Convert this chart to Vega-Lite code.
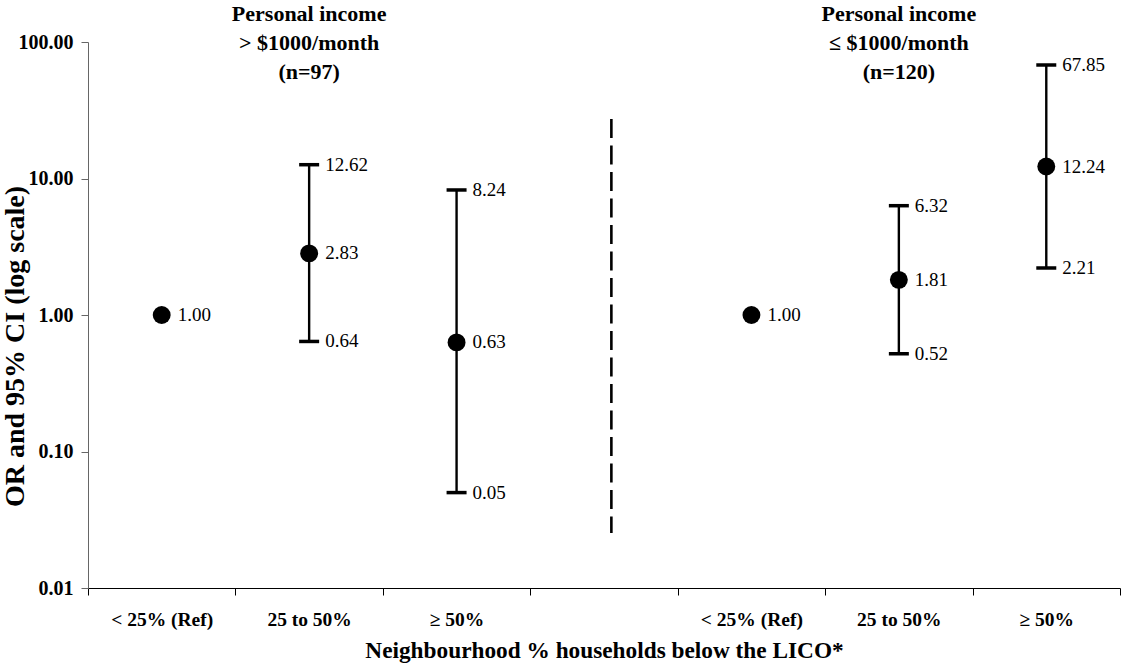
{
  "$schema": "https://vega.github.io/schema/vega-lite/v6.json",
  "width": 1032,
  "height": 546,
  "autosize": {"type": "none"},
  "padding": {"left": 88, "top": 42, "right": 8, "bottom": 77},
  "background": "white",
  "config": {
    "view": {"stroke": null},
    "font": "Liberation Serif",
    "axis": {"grid": false, "labelFont": "Liberation Serif", "titleFont": "Liberation Serif"}
  },
  "datasets": {
    "est": [
      {"pos": 0.5, "or": 1.00, "lo": null, "hi": null, "group": ">1000"},
      {"pos": 1.5, "or": 2.83, "lo": 0.64, "hi": 12.62, "group": ">1000"},
      {"pos": 2.5, "or": 0.63, "lo": 0.05, "hi": 8.24, "group": ">1000"},
      {"pos": 4.5, "or": 1.00, "lo": null, "hi": null, "group": "<=1000"},
      {"pos": 5.5, "or": 1.81, "lo": 0.52, "hi": 6.32, "group": "<=1000"},
      {"pos": 6.5, "or": 12.24, "lo": 2.21, "hi": 67.85, "group": "<=1000"}
    ],
    "heads": [
      {"pos": 1.5, "y": 100, "text": "Personal income\n> $1000/month\n(n=97)"},
      {"pos": 5.5, "y": 100, "text": "Personal income\n≤ $1000/month\n(n=120)"}
    ],
    "divider": [
      {"pos": 3.55, "top": 27.3, "bottom": 0.0253}
    ]
  },
  "layer": [
    {
      "data": {"name": "divider"},
      "mark": {"type": "rule", "strokeDash": [19, 7.5], "strokeWidth": 2.6, "color": "black"},
      "encoding": {
        "x": {"field": "pos", "type": "quantitative"},
        "y": {"field": "top", "type": "quantitative"},
        "y2": {"field": "bottom"}
      }
    },
    {
      "data": {"name": "est"},
      "transform": [{"filter": "datum.lo != null"}],
      "mark": {"type": "rule", "strokeWidth": 2.4, "color": "black"},
      "encoding": {
        "x": {"field": "pos", "type": "quantitative"},
        "y": {"field": "lo", "type": "quantitative"},
        "y2": {"field": "hi"}
      }
    },
    {
      "data": {"name": "est"},
      "transform": [{"filter": "datum.lo != null"}, {"fold": ["lo", "hi"], "as": ["bound", "val"]}],
      "mark": {"type": "tick", "orient": "horizontal", "size": 20, "thickness": 3.5, "color": "black", "opacity": 1},
      "encoding": {
        "x": {"field": "pos", "type": "quantitative"},
        "y": {"field": "val", "type": "quantitative"}
      }
    },
    {
      "data": {"name": "est"},
      "transform": [{"filter": "datum.lo != null"}, {"fold": ["lo", "hi"], "as": ["bound", "val"]}],
      "mark": {"type": "text", "align": "left", "baseline": "middle", "dx": 16, "fontSize": 19, "font": "Liberation Serif", "color": "black"},
      "encoding": {
        "x": {"field": "pos", "type": "quantitative"},
        "y": {"field": "val", "type": "quantitative"},
        "text": {"field": "val", "type": "quantitative", "format": ".2f"}
      }
    },
    {
      "data": {"name": "est"},
      "mark": {"type": "circle", "size": 320, "color": "black", "opacity": 1},
      "encoding": {
        "x": {
          "field": "pos", "type": "quantitative",
          "scale": {"domain": [0, 7], "nice": false, "zero": false},
          "axis": {
            "values": [0, 1, 2, 3, 4, 5, 6, 7],
            "labelExpr": "['< 25% (Ref)', '25 to 50%', '≥ 50%', '', '< 25% (Ref)', '25 to 50%', '≥ 50%', ''][datum.value]",
            "labelOffset": 73.7,
            "labelFlush": false,
            "labelOverlap": false,
            "labelBound": false,
            "labelFontSize": 19.5,
            "labelFontWeight": "bold",
            "labelColor": "black",
            "labelPadding": 15,
            "tickSize": 7,
            "tickColor": "black",
            "domainColor": "black",
            "title": "Neighbourhood % households below the LICO*",
            "titleFontSize": 23.3,
            "titleFontWeight": "bold",
            "titleColor": "black",
            "titleBaseline": "middle",
            "titleY": 62
          }
        },
        "y": {
          "field": "or", "type": "quantitative",
          "scale": {"type": "log", "domain": [0.01, 100], "nice": false},
          "axis": {
            "values": [0.01, 0.1, 1, 10, 100],
            "format": ".2f",
            "labelFontSize": 20,
            "labelFontWeight": "bold",
            "labelColor": "black",
            "labelPadding": 8,
            "tickSize": 7,
            "tickColor": "#666",
            "domainColor": "#666",
            "title": "OR and 95% CI (log scale)",
            "titleFontSize": 28,
            "titleFontWeight": "bold",
            "titleColor": "black",
            "titleAngle": -90,
            "titleAlign": "center",
            "titleBaseline": "middle",
            "titleX": -73,
            "titleY": 304
          }
        }
      }
    },
    {
      "data": {"name": "est"},
      "transform": [{"filter": "datum.lo == null"}],
      "mark": {"type": "text", "align": "left", "baseline": "middle", "dx": 16, "fontSize": 19, "font": "Liberation Serif", "color": "black"},
      "encoding": {
        "x": {"field": "pos", "type": "quantitative"},
        "y": {"field": "or", "type": "quantitative"},
        "text": {"field": "or", "type": "quantitative", "format": ".2f"}
      }
    },
    {
      "data": {"name": "est"},
      "transform": [{"filter": "datum.lo != null"}],
      "mark": {"type": "text", "align": "left", "baseline": "middle", "dx": 16, "fontSize": 19, "font": "Liberation Serif", "color": "black"},
      "encoding": {
        "x": {"field": "pos", "type": "quantitative"},
        "y": {"field": "or", "type": "quantitative"},
        "text": {"field": "or", "type": "quantitative", "format": ".2f"}
      }
    },
    {
      "data": {"name": "heads"},
      "mark": {"type": "text", "align": "center", "baseline": "alphabetic", "dy": -21, "fontSize": 22, "fontWeight": "bold", "lineHeight": 29, "lineBreak": "\n", "font": "Liberation Serif", "color": "black"},
      "encoding": {
        "x": {"field": "pos", "type": "quantitative"},
        "y": {"field": "y", "type": "quantitative"},
        "text": {"field": "text"}
      }
    }
  ]
}
